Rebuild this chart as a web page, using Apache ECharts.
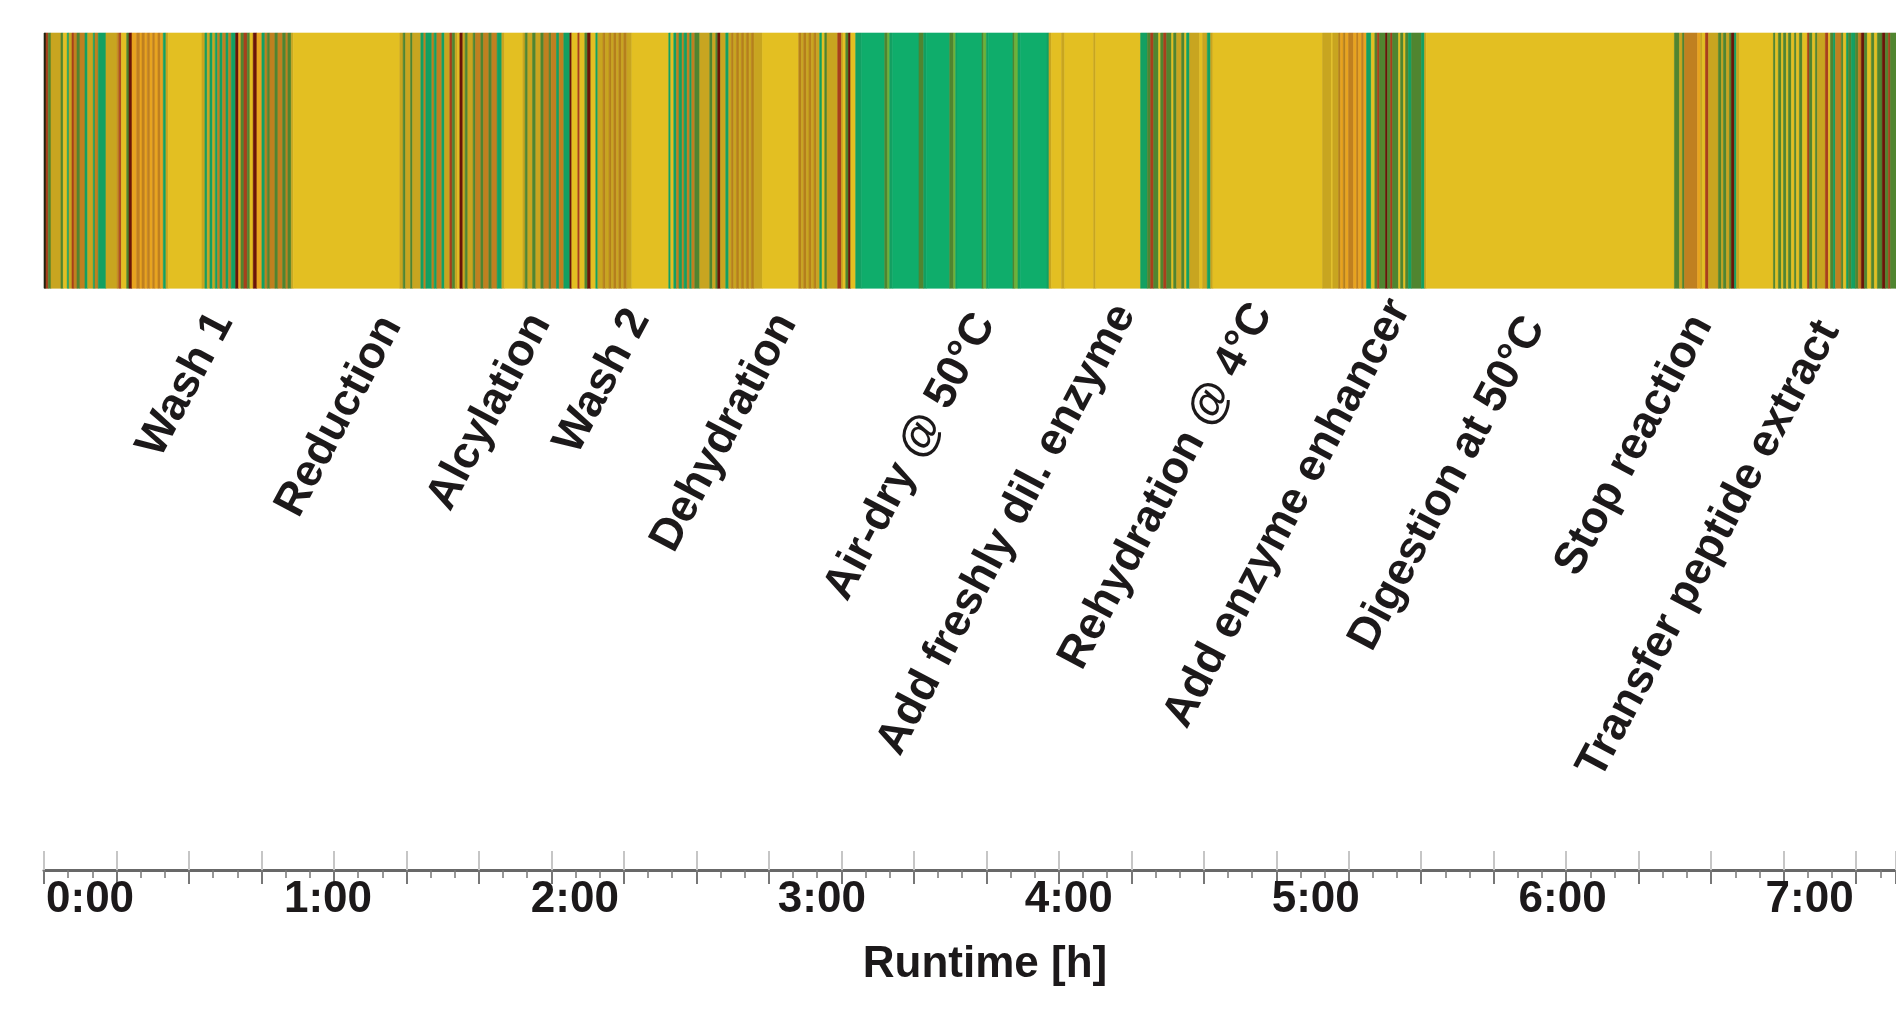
<!DOCTYPE html>
<html>
<head>
<meta charset="utf-8">
<title>Runtime</title>
<script src="https://cdn.jsdelivr.net/npm/echarts@6/dist/echarts.min.js"></script>
<style>
  html, body { margin: 0; padding: 0; background: #fff; }
  #chart { width: 1896px; height: 1011px; }
</style>
</head>
<body>
<div id="chart"></div>
<script>
// runtime axis in minutes (axis starts a bit before 0:00, as in the figure)
var timeMin = -9;
var timeMax = 441;

// hour labels
var hourValues = [0, 60, 120, 180, 240, 300, 360, 420];

// phase labels: name, time of label end, height of label end (0..1 on the hidden y axis)
var phaseNames = ['Wash 1', 'Reduction', 'Alcylation', 'Wash 2', 'Dehydration', 'Air-dry @ 50°C',
  'Add freshly dil. enzyme', 'Rehydration @ 4°C', 'Add enzyme enhancer', 'Digestion at 50°C',
  'Stop reaction', 'Transfer peptide extract'];
var phaseTime = [34.3, 75.3, 111.5, 135.6, 171.3, 219.6, 253.6, 286.9, 320.4, 353.2, 393.8, 424.7];
var phaseY = [0.662, 0.658, 0.661, 0.666, 0.661, 0.661, 0.672, 0.673, 0.678, 0.657, 0.659, 0.652];

// stripe colours (one letter per stripe)
var palette = {
  Y: '#E3BF22', D: '#C8A520', G: '#13A062', B: '#0FAD6B', g: '#6BB33B',
  O: '#508530', N: '#C08020', A: '#E8A420', L: '#B5801C', R: '#A8401C',
  M: '#6A1508', K: '#1E2410'
};

// end time (min) of each stripe, each one starts where the previous ends
var stripeEnd = [
  -8.51, -7.96, -7.30, -4.87, -4.31, -3.34, -2.93, -2.20, -1.71, -0.98, -0.26, 0.96, 1.62, 2.98, 3.39, 4.19, 6.06, 8.81, 9.29, 9.78,
  11.09, 11.65, 12.38, 13.52, 14.32, 14.81, 15.53, 16.09, 16.75, 17.40, 17.96, 18.69, 19.35, 19.98, 20.63, 21.19,
  29.38, 30.11, 30.67, 31.32, 31.98, 32.61, 33.19, 33.75, 34.41, 35.21, 35.86, 36.50, 37.57, 38.29, 38.85, 39.58, 40.38, 41.04,
  41.84, 42.74, 43.95, 44.68, 45.24, 45.90, 47.11, 47.84, 48.98, 49.78, 50.27, 51.07, 51.56,
  77.47, 78.27, 78.86, 80.07, 80.56, 82.57, 83.30, 83.79, 85.25, 85.80, 86.46, 87.67, 88.33, 89.62, 90.18, 90.90, 91.49, 92.05,
  92.78, 93.33, 93.99, 95.28, 95.86, 97.15, 97.80, 99.09, 99.82, 101.11, 102.25, 102.90,
  107.35, 107.91, 108.56, 109.71, 110.51, 111.72, 112.45, 113.74, 114.22, 115.53, 116.17, 117.31, 118.77, 119.25, 120.71, 121.19,
  122.41, 123.06, 123.87, 125.08, 125.57, 126.85, 127.44, 128.31, 128.89, 129.45, 130.11, 130.67, 131.32, 131.88, 132.61, 133.83,
  142.81, 143.30, 144.03, 144.68, 145.31, 146.04, 146.53, 147.26, 147.91, 148.40, 149.13, 150.34, 152.77, 153.43, 154.23, 154.71,
  155.37, 156.66, 157.39, 158.04, 158.60, 159.26, 159.89, 160.47, 161.10, 161.69, 162.32, 162.90, 163.53, 165.57,
  174.39, 175.04, 175.60, 176.26, 176.89, 177.47, 178.11, 178.69, 179.49, 180.05, 180.70, 181.26, 183.86, 184.76, 185.15, 185.81,
  186.46, 187.02, 188.23, 189.69,
  195.28, 196.01, 196.49, 197.22, 203.61, 204.75, 205.41, 211.07, 212.04, 212.52, 212.84, 218.91, 219.33, 219.98, 220.54, 226.44,
  226.86, 227.66, 228.24, 234.70, 235.19, 235.77,
  238.27, 239.00, 246.05, 246.53, 257.46, 259.09, 259.89, 260.62, 261.83, 262.32, 263.05, 263.78, 264.99, 265.48, 266.21, 267.42,
  268.15, 268.63, 269.36, 271.79, 272.52, 273.66, 274.46, 275.02,
  301.67, 303.78, 304.17, 305.56, 306.04, 306.70, 307.26, 307.98, 309.20, 309.93, 310.41, 311.14, 311.70, 312.36, 313.50, 314.37,
  314.96, 315.51, 316.97, 317.46, 318.19, 318.67, 320.13, 320.62, 321.34, 321.83, 322.56, 323.29, 325.72, 326.45, 326.86,
  387.17, 388.38, 389.11, 389.60, 392.76, 393.49, 393.97, 394.70, 395.43, 397.86, 398.59, 399.07, 399.80, 400.53, 401.02, 401.74,
  402.23, 402.96,
  411.22, 411.70, 412.43, 413.16, 413.65, 414.37, 414.86, 415.59, 416.32, 416.80, 417.53, 418.26, 419.48, 419.96, 420.69, 421.42,
  421.90, 423.85, 424.58, 425.06, 425.79, 426.28, 427.73, 428.22, 428.95, 429.43, 430.16, 431.13, 431.86, 432.59, 433.32, 434.05,
  435.02, 435.75, 436.48, 437.69, 438.42, 439.15, 439.64, 441
];
var stripeColor = (
  'KRODOYGDRNONGDGNGDNRYOMANANANANANAGD' +
  'YDGDGDGNGNGNGMAOROYMAGNONONONOD' +
  'YDODODGNGNGNGDRODYMDODONONONGD' +
  'YDODODONONGNGMYRYOMYGDLDLDLDLDLD' +
  'YGYGNGNGNGNODODOMDGDLDLDLDLDLD' +
  'YLDLDLDLDGYODRDYOMYG' +
  'BOgGBOGBOgGBOgGBOgGBGD' +
  'YDYDYGOROYOROYODOYGDYDGD' +
  'YDYDLALANANANAGYOROMOROYOYOGOGD' +
  'YODONADYRDODODOMGD' +
  'YOYOYOYOYOYOYROYODRYOGNOYGOGONMOYOYOMORO'
).split('');

// strip occupies the top part of the plot (hidden y axis 0..1)
var stripTop = 1;
var stripLow = 0.695;

var fontFamily = '"Liberation Sans", Arial, Helvetica, sans-serif';
var textColor = '#1c191a';

var stripeData = [];
for (var i = 0; i < stripeEnd.length; i++) {
  var s = i == 0 ? timeMin : stripeEnd[i - 1];
  stripeData.push([s, stripeEnd[i], i]);
}

var labelData = [];
for (var j = 0; j < phaseNames.length; j++) {
  labelData.push({ name: phaseNames[j], value: [phaseTime[j], phaseY[j]] });
}

var myChart = echarts.init(document.getElementById('chart'));
var option = {
  animation: false,
  backgroundColor: '#ffffff',
  grid: { left: 44, right: 0, top: 33, bottom: 141, containLabel: false, outerBoundsMode: 'none' },
  xAxis: [
    {
      // time axis: data + hour labels
      type: 'value',
      min: timeMin,
      max: timeMax,
      position: 'bottom',
      axisLine: { show: false },
      axisTick: { show: false },
      splitLine: { show: false },
      axisLabel: {
        customValues: hourValues,
        margin: 8,
        fontSize: 44,
        fontWeight: 'bold',
        fontFamily: fontFamily,
        color: textColor,
        formatter: function (v) {
          var t = Math.round(v / 60) + ':00';
          // first label sits flush with the axis start
          return v == 0 ? '{first|' + t + '}' : t;
        },
        rich: {
          first: {
            fontSize: 44, fontWeight: 'bold', fontFamily: fontFamily, color: textColor,
            padding: [0, 0, 0, 18]
          }
        }
      },
      name: 'Runtime [h]',
      nameLocation: 'middle',
      nameGap: 73,
      nameMoveOverlap: false,
      nameTextStyle: {
        fontSize: 44, fontWeight: 'bold', fontFamily: fontFamily, color: textColor,
        padding: [0, 0, 0, 30]
      }
    },
    {
      // tick ruler below the line
      type: 'value',
      min: 0,
      max: 25.55,
      interval: 1,
      position: 'bottom',
      axisLine: { show: true, lineStyle: { color: '#686868', width: 3 } },
      axisTick: { show: true, length: 14, lineStyle: { color: '#777777', width: 2 } },
      minorTick: { show: true, splitNumber: 3, length: 8, lineStyle: { color: '#777777', width: 1.5 } },
      axisLabel: { show: false },
      splitLine: { show: false }
    },
    {
      // tick ruler above the line (lighter)
      type: 'value',
      min: 0,
      max: 25.55,
      interval: 1,
      position: 'bottom',
      axisLine: { show: false },
      axisTick: { show: true, inside: true, length: 19, lineStyle: { color: '#c6c6c6', width: 2 } },
      axisLabel: { show: false },
      splitLine: { show: false }
    }
  ],
  yAxis: { type: 'value', min: 0, max: 1, show: false },
  series: [
    {
      type: 'custom',
      xAxisIndex: 0,
      data: stripeData,
      encode: { x: [0, 1] },
      silent: true,
      renderItem: function (params, api) {
        var p0 = api.coord([api.value(0), stripTop]);
        var p1 = api.coord([api.value(1), stripLow]);
        var c = palette[stripeColor[api.value(2)]] || palette.Y;
        return {
          type: 'rect',
          shape: { x: p0[0], y: p0[1], width: p1[0] - p0[0], height: p1[1] - p0[1] },
          style: { fill: c, stroke: c, lineWidth: 0.6 }
        };
      }
    },
    {
      type: 'scatter',
      xAxisIndex: 0,
      data: labelData,
      symbolSize: 0,
      silent: true,
      itemStyle: { opacity: 1 },
      label: {
        show: true,
        position: [0, 0],
        formatter: '{b}',
        rotate: 62,
        align: 'right',
        verticalAlign: 'middle',
        fontSize: 45,
        fontWeight: 'bold',
        fontFamily: fontFamily,
        color: textColor,
        opacity: 1
      }
    }
  ]
};
myChart.setOption(option);
</script>
</body>
</html>
